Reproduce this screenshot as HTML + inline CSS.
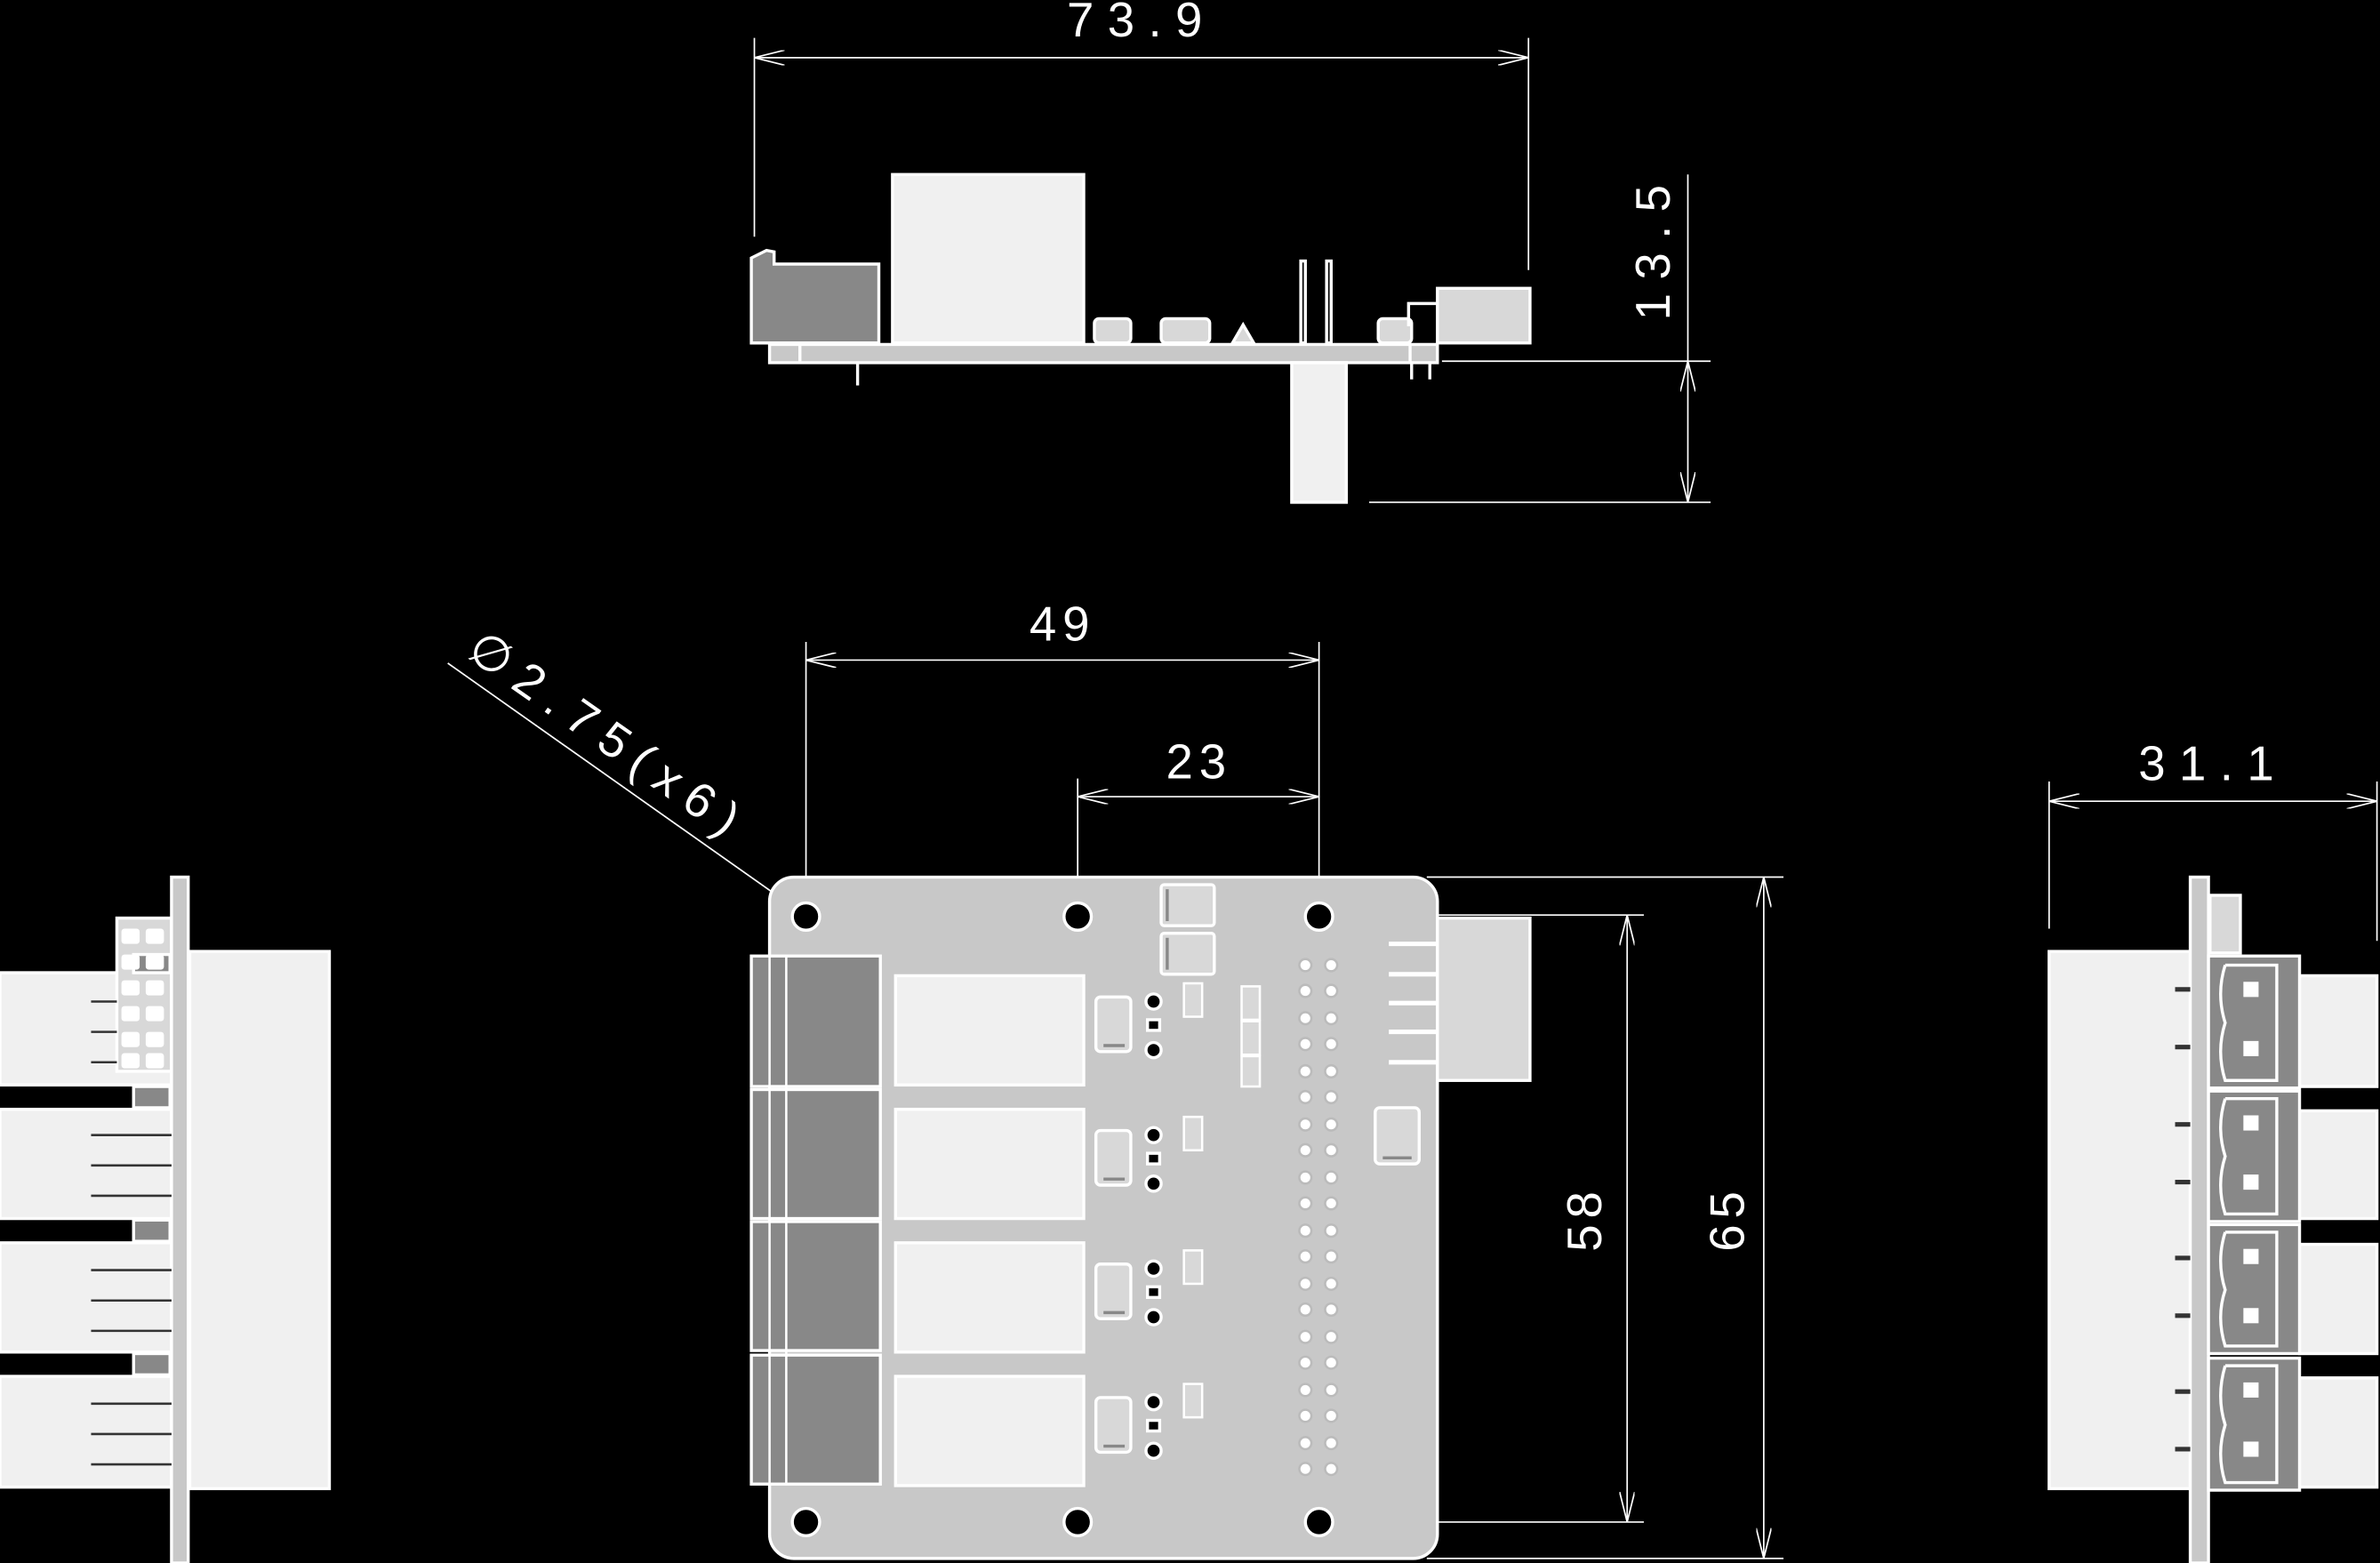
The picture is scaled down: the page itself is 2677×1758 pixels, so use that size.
<!DOCTYPE html>
<html><head><meta charset="utf-8"><style>
html,body{margin:0;padding:0;background:#000;overflow:hidden}
svg{display:block}
text{font-family:"Liberation Sans",sans-serif;fill:#fff}
</style></head><body>
<svg width="2677" height="1758" viewBox="0 0 1568 1030" preserveAspectRatio="none" xmlns="http://www.w3.org/2000/svg">
<defs>
<marker id="a" viewBox="0 0 20 10" refX="20" refY="5" markerWidth="20" markerHeight="10" markerUnits="userSpaceOnUse" orient="auto-start-reverse">
<path d="M0,0 L20,5 L0,10" fill="none" stroke="#fff" stroke-width="1"/>
</marker>
</defs>
<rect width="1568" height="1030" fill="#000"/>

<!-- ===== TOP ELEVATION ===== -->
<g stroke="#fff" stroke-width="1">
<line x1="497" y1="25" x2="497" y2="156"/>
<line x1="1007" y1="25" x2="1007" y2="178"/>
<line x1="497" y1="38" x2="1007" y2="38" marker-start="url(#a)" marker-end="url(#a)"/>
<line x1="1112" y1="115" x2="1112" y2="238"/>
<line x1="950" y1="238" x2="1127" y2="238"/>
<line x1="902" y1="331" x2="1127" y2="331"/>
<line x1="1112" y1="238" x2="1112" y2="331" marker-start="url(#a)" marker-end="url(#a)"/>
</g>
<text x="752" y="24" font-size="32" text-anchor="middle" letter-spacing="9">73.9</text>
<text transform="translate(1100,162) rotate(-90)" font-size="32" text-anchor="middle" letter-spacing="9">13.5</text>

<g stroke="#fff" stroke-width="2">
<path d="M495,226 L495,170 L505,165 L510,166 L510,174 L579,174 L579,226 Z" fill="#888"/>
<rect x="588" y="115" width="126" height="111" fill="#f0f0f0"/>
<rect x="721" y="210" width="24" height="16" rx="3" fill="#d8d8d8"/>
<rect x="765" y="210" width="32" height="16" rx="3" fill="#d8d8d8"/>
<path d="M812,226 L819,214 L826,226 Z" fill="#d8d8d8"/>
<rect x="857" y="172" width="3" height="54" fill="#000"/>
<rect x="874" y="172" width="3" height="54" fill="#000"/>
<rect x="908" y="210" width="22" height="16" rx="3" fill="#d8d8d8"/>
<path d="M928,215 L928,200 L948,200" fill="none"/>
<rect x="947" y="190" width="61" height="36" fill="#d8d8d8"/>
<rect x="507" y="227" width="440" height="12" fill="#c8c8c8"/>
<line x1="527" y1="227" x2="527" y2="239"/>
<line x1="929" y1="227" x2="929" y2="239"/>
<rect x="851" y="239" width="36" height="92" fill="#f0f0f0"/>
<line x1="565" y1="239" x2="565" y2="254"/>
<line x1="930" y1="239" x2="930" y2="250"/>
<line x1="942" y1="239" x2="942" y2="250"/>
</g>

<!-- ===== PLAN VIEW ===== -->
<g stroke="#fff" stroke-width="1">
<line x1="531" y1="423" x2="531" y2="592"/>
<line x1="869" y1="423" x2="869" y2="592"/>
<line x1="531" y1="435" x2="869" y2="435" marker-start="url(#a)" marker-end="url(#a)"/>
<line x1="710" y1="513" x2="710" y2="592"/>
<line x1="710" y1="525" x2="869" y2="525" marker-start="url(#a)" marker-end="url(#a)"/>
<line x1="295" y1="437" x2="567" y2="629"/>
<line x1="885" y1="603" x2="1083" y2="603"/>
<line x1="885" y1="1003" x2="1083" y2="1003"/>
<line x1="1072" y1="603" x2="1072" y2="1003" marker-start="url(#a)" marker-end="url(#a)"/>
<line x1="940" y1="578" x2="1175" y2="578"/>
<line x1="940" y1="1027" x2="1175" y2="1027"/>
<line x1="1162" y1="578" x2="1162" y2="1027" marker-start="url(#a)" marker-end="url(#a)"/>
</g>
<text x="700" y="422" font-size="32" text-anchor="middle" letter-spacing="4">49</text>
<text x="790" y="513" font-size="32" text-anchor="middle" letter-spacing="4">23</text>
<text transform="translate(306,432) rotate(35)" font-size="32" letter-spacing="8">∅2.75(x6)</text>
<text transform="translate(1055,803) rotate(-90)" font-size="32" text-anchor="middle" letter-spacing="4">58</text>
<text transform="translate(1149,803) rotate(-90)" font-size="32" text-anchor="middle" letter-spacing="4">65</text>

<g stroke="#fff" stroke-width="2">
<rect x="507" y="578" width="440" height="449" rx="16" fill="#c8c8c8"/>
<g fill="#000">
<circle cx="531" cy="604" r="9"/><circle cx="710" cy="604" r="9"/><circle cx="869" cy="604" r="9"/>
<circle cx="531" cy="1003" r="9"/><circle cx="710" cy="1003" r="9"/><circle cx="869" cy="1003" r="9"/>
</g>
<g fill="#888">
<rect x="495" y="630" width="85" height="86"/><rect x="495" y="718" width="85" height="85"/>
<rect x="495" y="805" width="85" height="85"/><rect x="495" y="893" width="85" height="85"/>
</g>
<g fill="none" stroke-width="1.5">
<line x1="507" y1="630" x2="507" y2="978"/><line x1="518" y1="630" x2="518" y2="978"/>
</g>
<g fill="#f0f0f0">
<rect x="590" y="643" width="124" height="72"/><rect x="590" y="731" width="124" height="72"/>
<rect x="590" y="819" width="124" height="72"/><rect x="590" y="907" width="124" height="72"/>
</g>
<g fill="#d8d8d8">
<rect x="722" y="657" width="23" height="36" rx="3"/><rect x="722" y="745" width="23" height="36" rx="3"/>
<rect x="722" y="833" width="23" height="36" rx="3"/><rect x="722" y="921" width="23" height="36" rx="3"/>
<rect x="906" y="730" width="29" height="37" rx="3"/>
<rect x="765" y="583" width="35" height="27" rx="2"/><rect x="765" y="615" width="35" height="27" rx="2"/>
<rect x="947" y="605" width="61" height="107" fill="#d8d8d8"/>
</g>
<g fill="#000">
<circle cx="760" cy="660" r="5"/><circle cx="760" cy="692" r="5"/>
<circle cx="760" cy="748" r="5"/><circle cx="760" cy="780" r="5"/>
<circle cx="760" cy="836" r="5"/><circle cx="760" cy="868" r="5"/>
<circle cx="760" cy="924" r="5"/><circle cx="760" cy="956" r="5"/>
<rect x="756" y="672" width="8" height="7"/><rect x="756" y="760" width="8" height="7"/>
<rect x="756" y="848" width="8" height="7"/><rect x="756" y="936" width="8" height="7"/>
</g>
<g fill="#d8d8d8" stroke-width="1.5">
<rect x="780" y="648" width="12" height="22"/><rect x="780" y="736" width="12" height="22"/>
<rect x="780" y="824" width="12" height="22"/><rect x="780" y="912" width="12" height="22"/>
<rect x="818" y="650" width="12" height="22"/><rect x="818" y="673" width="12" height="22"/><rect x="818" y="696" width="12" height="20"/>
</g>
</g>
<g stroke="#888" stroke-width="2">
<line x1="727" y1="689" x2="741" y2="689"/><line x1="727" y1="777" x2="741" y2="777"/>
<line x1="727" y1="865" x2="741" y2="865"/><line x1="727" y1="953" x2="741" y2="953"/>
<line x1="911" y1="763" x2="930" y2="763"/>
<line x1="769" y1="586" x2="769" y2="607"/><line x1="769" y1="618" x2="769" y2="639"/>
</g>
<g fill="#fff" stroke="#bbb" stroke-width="1.5">
<circle cx="860" cy="636" r="4"/><circle cx="877" cy="636" r="4"/><circle cx="860" cy="653" r="4"/><circle cx="877" cy="653" r="4"/>
<circle cx="860" cy="671" r="4"/><circle cx="877" cy="671" r="4"/><circle cx="860" cy="688" r="4"/><circle cx="877" cy="688" r="4"/>
<circle cx="860" cy="706" r="4"/><circle cx="877" cy="706" r="4"/><circle cx="860" cy="723" r="4"/><circle cx="877" cy="723" r="4"/>
<circle cx="860" cy="741" r="4"/><circle cx="877" cy="741" r="4"/><circle cx="860" cy="758" r="4"/><circle cx="877" cy="758" r="4"/>
<circle cx="860" cy="776" r="4"/><circle cx="877" cy="776" r="4"/><circle cx="860" cy="793" r="4"/><circle cx="877" cy="793" r="4"/>
<circle cx="860" cy="811" r="4"/><circle cx="877" cy="811" r="4"/><circle cx="860" cy="828" r="4"/><circle cx="877" cy="828" r="4"/>
<circle cx="860" cy="846" r="4"/><circle cx="877" cy="846" r="4"/><circle cx="860" cy="863" r="4"/><circle cx="877" cy="863" r="4"/>
<circle cx="860" cy="881" r="4"/><circle cx="877" cy="881" r="4"/><circle cx="860" cy="898" r="4"/><circle cx="877" cy="898" r="4"/>
<circle cx="860" cy="916" r="4"/><circle cx="877" cy="916" r="4"/><circle cx="860" cy="933" r="4"/><circle cx="877" cy="933" r="4"/>
<circle cx="860" cy="951" r="4"/><circle cx="877" cy="951" r="4"/><circle cx="860" cy="968" r="4"/><circle cx="877" cy="968" r="4"/>
</g>
<g stroke="#fff" stroke-width="3">
<line x1="915" y1="622" x2="948" y2="622"/><line x1="915" y1="642" x2="948" y2="642"/>
<line x1="915" y1="661" x2="948" y2="661"/><line x1="915" y1="680" x2="948" y2="680"/>
<line x1="915" y1="700" x2="948" y2="700"/>
</g>

<!-- ===== LEFT VIEW ===== -->
<g stroke="#fff" stroke-width="2">
<rect x="0" y="641" width="113" height="74" fill="#f0f0f0"/>
<rect x="0" y="731" width="113" height="72" fill="#f0f0f0"/>
<rect x="0" y="819" width="113" height="72" fill="#f0f0f0"/>
<rect x="0" y="907" width="113" height="73" fill="#f0f0f0"/>
<rect x="77" y="605" width="36" height="101" fill="#d8d8d8"/>
<rect x="125" y="627" width="92" height="354" fill="#f0f0f0"/>
<rect x="113" y="578" width="11" height="452" fill="#c8c8c8"/>
<rect x="88" y="716" width="24" height="14" fill="#888"/><rect x="88" y="804" width="24" height="14" fill="#888"/>
<rect x="88" y="892" width="24" height="14" fill="#888"/><rect x="88" y="629" width="24" height="12" fill="#888"/>
</g>
<g fill="#fff">
<rect x="80" y="612" width="12" height="10" rx="2"/><rect x="96" y="612" width="12" height="10" rx="2"/>
<rect x="80" y="629" width="12" height="10" rx="2"/><rect x="96" y="629" width="12" height="10" rx="2"/>
<rect x="80" y="646" width="12" height="10" rx="2"/><rect x="96" y="646" width="12" height="10" rx="2"/>
<rect x="80" y="663" width="12" height="10" rx="2"/><rect x="96" y="663" width="12" height="10" rx="2"/>
<rect x="80" y="680" width="12" height="10" rx="2"/><rect x="96" y="680" width="12" height="10" rx="2"/>
<rect x="80" y="694" width="12" height="10" rx="2"/><rect x="96" y="694" width="12" height="10" rx="2"/>
</g>
<g stroke="#333" stroke-width="1.5">
<line x1="60" y1="660" x2="77" y2="660"/><line x1="60" y1="680" x2="77" y2="680"/><line x1="60" y1="700" x2="77" y2="700"/>
<line x1="60" y1="748" x2="113" y2="748"/><line x1="60" y1="768" x2="113" y2="768"/><line x1="60" y1="788" x2="113" y2="788"/>
<line x1="60" y1="837" x2="113" y2="837"/><line x1="60" y1="857" x2="113" y2="857"/><line x1="60" y1="877" x2="113" y2="877"/>
<line x1="60" y1="925" x2="113" y2="925"/><line x1="60" y1="945" x2="113" y2="945"/><line x1="60" y1="965" x2="113" y2="965"/>
</g>

<!-- ===== RIGHT VIEW ===== -->
<g stroke="#fff" stroke-width="1">
<line x1="1350" y1="515" x2="1350" y2="612"/>
<line x1="1566" y1="515" x2="1566" y2="620"/>
<line x1="1350" y1="528" x2="1566" y2="528" marker-start="url(#a)" marker-end="url(#a)"/>
</g>
<text x="1458" y="514" font-size="32" text-anchor="middle" letter-spacing="9">31.1</text>
<g stroke="#fff" stroke-width="2">
<rect x="1350" y="627" width="93" height="354" fill="#f0f0f0"/>
<rect x="1443" y="578" width="12" height="452" fill="#c8c8c8"/>
<rect x="1456" y="590" width="20" height="38" fill="#d8d8d8"/>
<rect x="1515" y="643" width="51" height="73" fill="#f0f0f0"/>
<rect x="1515" y="732" width="51" height="71" fill="#f0f0f0"/>
<rect x="1515" y="820" width="51" height="72" fill="#f0f0f0"/>
<rect x="1515" y="908" width="51" height="72" fill="#f0f0f0"/>
<g fill="#888">
<rect x="1455" y="630" width="60" height="87"/><rect x="1455" y="719" width="60" height="86"/>
<rect x="1455" y="807" width="60" height="85"/><rect x="1455" y="895" width="60" height="87"/>
</g>
<g fill="none">
<path d="M1466,636 L1500,636 L1500,712 L1466,712 Q1460,693 1466,674 Q1460,655 1466,636"/>
<path d="M1466,724 L1500,724 L1500,800 L1466,800 Q1460,781 1466,762 Q1460,743 1466,724"/>
<path d="M1466,812 L1500,812 L1500,887 L1466,887 Q1460,868 1466,850 Q1460,831 1466,812"/>
<path d="M1466,900 L1500,900 L1500,977 L1466,977 Q1460,958 1466,939 Q1460,920 1466,900"/>
</g>
</g>
<g fill="#fff">
<rect x="1478" y="647" width="10" height="10"/><rect x="1478" y="686" width="10" height="10"/>
<rect x="1478" y="735" width="10" height="10"/><rect x="1478" y="774" width="10" height="10"/>
<rect x="1478" y="823" width="10" height="10"/><rect x="1478" y="862" width="10" height="10"/>
<rect x="1478" y="911" width="10" height="10"/><rect x="1478" y="950" width="10" height="10"/>
</g>
<g stroke="#333" stroke-width="3">
<line x1="1433" y1="652" x2="1443" y2="652"/><line x1="1433" y1="690" x2="1443" y2="690"/>
<line x1="1433" y1="741" x2="1443" y2="741"/><line x1="1433" y1="779" x2="1443" y2="779"/>
<line x1="1433" y1="829" x2="1443" y2="829"/><line x1="1433" y1="867" x2="1443" y2="867"/>
<line x1="1433" y1="917" x2="1443" y2="917"/><line x1="1433" y1="955" x2="1443" y2="955"/>
</g>
</svg>
</body></html>
